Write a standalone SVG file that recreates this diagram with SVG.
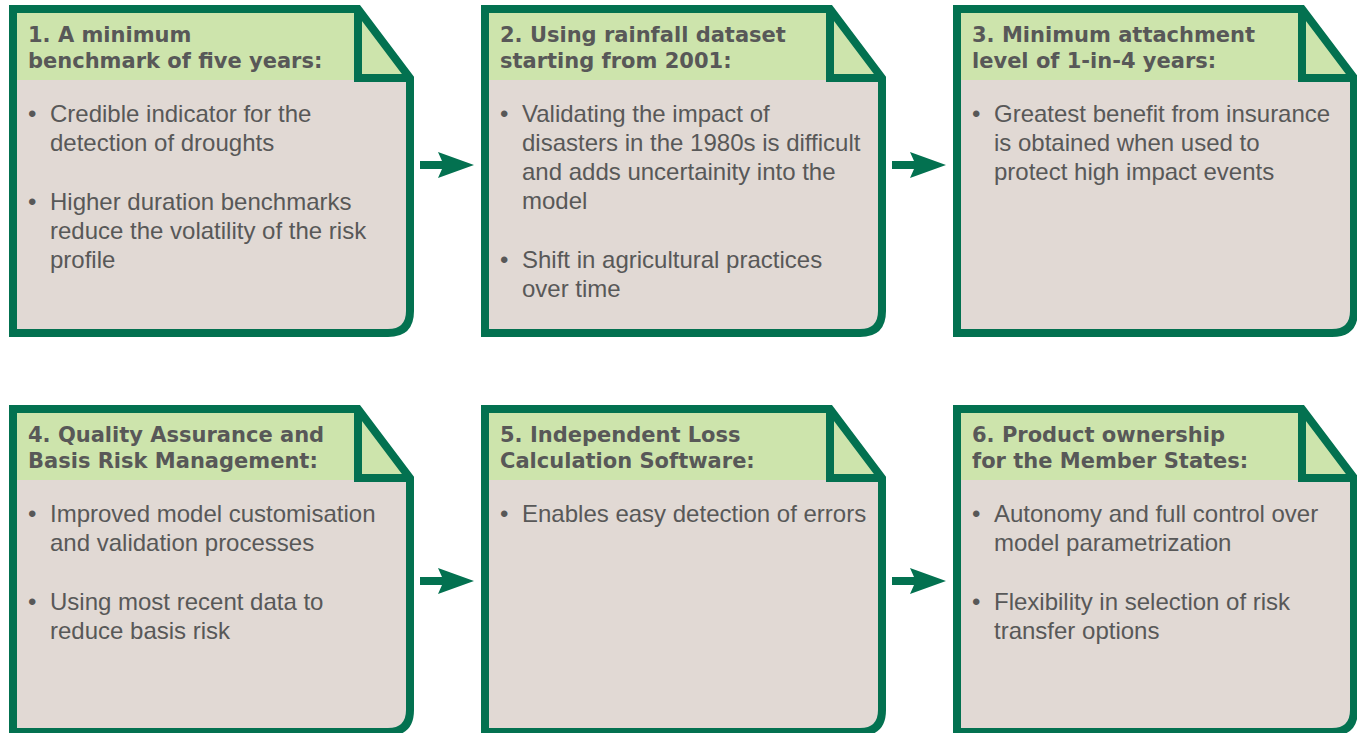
<svg xmlns="http://www.w3.org/2000/svg" width="1357" height="733" viewBox="0 0 1357 733">
<style>
.body{fill:#e1d9d4;stroke:none}
.head{fill:#cde4ac;stroke:none}
.outline{fill:none;stroke:#037150;stroke-width:8;stroke-linejoin:miter;stroke-miterlimit:3}
.h{font-family:"DejaVu Sans",sans-serif;font-weight:bold;font-size:21px;fill:#585858}
.t{font-family:"Liberation Sans",Arial,sans-serif;font-size:24px;fill:#585858}
.arrow{fill:#037150;stroke:none}
</style>
<defs>
<g id="card">
<path class="body" d="M13,9 H358 L410,78 V311 Q410,333 388,333 H13 Z"/>
<path class="head" d="M13,9 H358 L410,78 V80 H13 Z"/>
<path class="outline" d="M13,9 H358 L410,78 V311 Q410,333 388,333 H13 Z"/>
<path class="outline" d="M358,9 V78 H410"/>
</g>
<g id="card2">
<path class="body" d="M13,9 H358 L410,78 V310 Q410,332 388,332 H13 Z"/>
<path class="head" d="M13,9 H358 L410,78 V80 H13 Z"/>
<path class="outline" d="M13,9 H358 L410,78 V310 Q410,332 388,332 H13 Z"/>
<path class="outline" d="M358,9 V78 H410"/>
</g>
</defs>
<g id="node1">
<use href="#card"/>
<text class="h" x="28" y="42">1. A minimum</text>
<text class="h" x="28" y="68">benchmark of five years:</text>
<text class="t" x="28" y="122">•</text>
<text class="t" x="50" y="122">Credible indicator for the</text>
<text class="t" x="50" y="151">detection of droughts</text>
<text class="t" x="28" y="210">•</text>
<text class="t" x="50" y="210">Higher duration benchmarks</text>
<text class="t" x="50" y="239">reduce the volatility of the risk</text>
<text class="t" x="50" y="268">profile</text>
</g>
<g id="node2">
<use href="#card" x="472"/>
<text class="h" x="500" y="42">2. Using rainfall dataset</text>
<text class="h" x="500" y="68">starting from 2001:</text>
<text class="t" x="500" y="122">•</text>
<text class="t" x="522" y="122">Validating the impact of</text>
<text class="t" x="522" y="151">disasters in the 1980s is difficult</text>
<text class="t" x="522" y="180">and adds uncertainity into the</text>
<text class="t" x="522" y="209">model</text>
<text class="t" x="500" y="268">•</text>
<text class="t" x="522" y="268">Shift in agricultural practices</text>
<text class="t" x="522" y="297">over time</text>
</g>
<g id="node3">
<use href="#card" x="944"/>
<text class="h" x="972" y="42">3. Minimum attachment</text>
<text class="h" x="972" y="68">level of 1-in-4 years:</text>
<text class="t" x="972" y="122">•</text>
<text class="t" x="994" y="122">Greatest benefit from insurance</text>
<text class="t" x="994" y="151">is obtained when used to</text>
<text class="t" x="994" y="180">protect high impact events</text>
</g>
<g id="node4">
<use href="#card2" y="400"/>
<text class="h" x="28" y="442">4. Quality Assurance and</text>
<text class="h" x="28" y="468">Basis Risk Management:</text>
<text class="t" x="28" y="522">•</text>
<text class="t" x="50" y="522">Improved model customisation</text>
<text class="t" x="50" y="551">and validation processes</text>
<text class="t" x="28" y="610">•</text>
<text class="t" x="50" y="610">Using most recent data to</text>
<text class="t" x="50" y="639">reduce basis risk</text>
</g>
<g id="node5">
<use href="#card2" x="472" y="400"/>
<text class="h" x="500" y="442">5. Independent Loss</text>
<text class="h" x="500" y="468">Calculation Software:</text>
<text class="t" x="500" y="522">•</text>
<text class="t" x="522" y="522">Enables easy detection of errors</text>
</g>
<g id="node6">
<use href="#card2" x="944" y="400"/>
<text class="h" x="972" y="442">6. Product ownership</text>
<text class="h" x="972" y="468">for the Member States:</text>
<text class="t" x="972" y="522">•</text>
<text class="t" x="994" y="522">Autonomy and full control over</text>
<text class="t" x="994" y="551">model parametrization</text>
<text class="t" x="972" y="610">•</text>
<text class="t" x="994" y="610">Flexibility in selection of risk</text>
<text class="t" x="994" y="639">transfer options</text>
</g>
<g id="connectors">
<path class="arrow" d="M420,161 H442 L438,152 L474,165 L438,178 L442,169 H420 Z"/>
<path class="arrow" d="M892,161 H914 L910,152 L946,165 L910,178 L914,169 H892 Z"/>
<path class="arrow" d="M420,577 H442 L438,568 L474,581 L438,594 L442,585 H420 Z"/>
<path class="arrow" d="M892,577 H914 L910,568 L946,581 L910,594 L914,585 H892 Z"/>
</g>
</svg>
